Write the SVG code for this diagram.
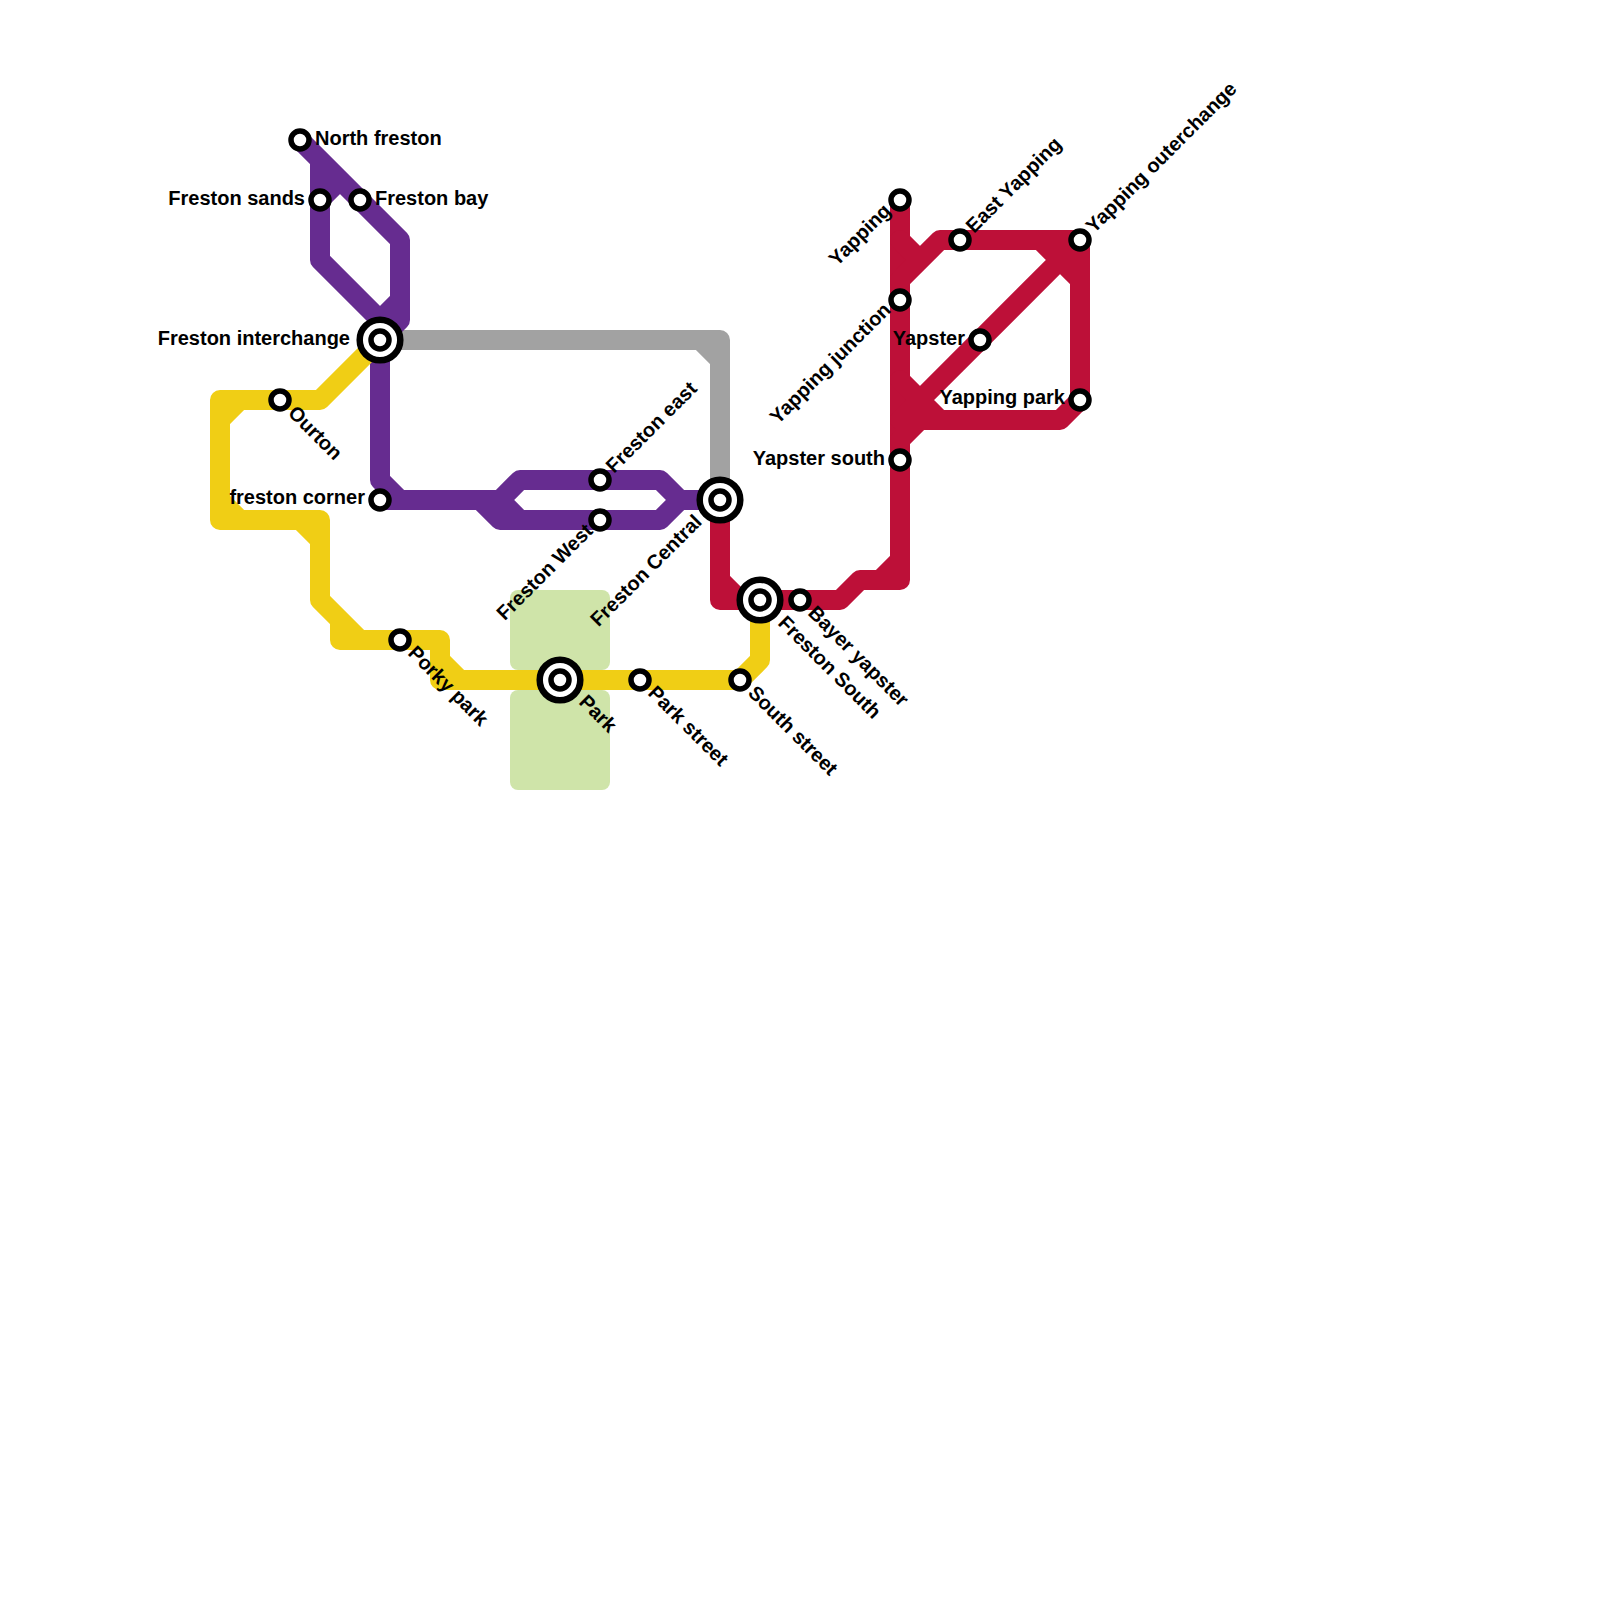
<svg xmlns="http://www.w3.org/2000/svg" width="1600" height="1600" viewBox="0 0 1600 1600">
<style>
.l{fill:none;stroke-width:20;stroke-linejoin:round;stroke-linecap:round}
.p{stroke:#662c90}.r{stroke:#bd1038}.y{stroke:#f0ce15}.g{stroke:#a2a2a2}
.park{fill:#cfe4a9}
.s{fill:#fff;stroke:#000;stroke-width:5.5}
.o{fill:#fff;stroke:#000;stroke-width:6.5}
.t{font-family:"Liberation Sans",Arial,sans-serif;font-weight:bold;font-size:20px;fill:#000}
.e{text-anchor:end}
</style>
<rect width="1600" height="1600" fill="#fff"/>
<g id="park-areas">
<rect class="park" x="510" y="590" width="100" height="80" rx="8"/>
<rect class="park" x="510" y="690" width="100" height="100" rx="8"/>
</g>
<g id="connectors">
<path class="l g" d="M380 340H720V500M700 340L720 360"/>
<path class="l p" d="M300 140L400 240V320L380 340M320 160V260L380 320M320 200L340 180M400 300L380 320"/>
<path class="l p" d="M380 340V480L400 500H500L520 480H660L680 500H720M380 500H400M480 500L500 520H660L680 500M500 500L520 520"/>
<path class="l r" d="M720 500V600H760M720 580L740 600M760 600H840L860 580H900V200M880 580L900 560"/>
<path class="l r" d="M900 240L920 260M900 280L940 240H1080V400L1060 420H920L900 440M1080 240L900 420M900 380L940 420M1040 240L1080 280"/>
<path class="l y" d="M380 340L320 400H220V520H320V600L360 640M220 420L240 400M220 500L240 520M300 520L320 540M340 620V640H440V660L460 680M440 660V680H740L760 660V600"/>
</g>
<g id="labels">
<text class="t" x="315" y="145">North freston</text>
<text class="t e" x="305" y="205">Freston sands</text>
<text class="t" x="375" y="205">Freston bay</text>
<text class="t e" x="350" y="345">Freston interchange</text>
<text class="t" transform="translate(287 414) rotate(45)">Ourton</text>
<text class="t e" x="365" y="504">freston corner</text>
<text class="t" transform="translate(407 654) rotate(45)">Porky park</text>
<text class="t" transform="translate(578 703) rotate(45)">Park</text>
<text class="t" transform="translate(647 694) rotate(45)">Park street</text>
<text class="t" transform="translate(747 694) rotate(45)">South street</text>
<text class="t" transform="translate(777 624) rotate(45)">Freston South</text>
<text class="t" transform="translate(807 614) rotate(45)">Bayer yapster</text>
<text class="t e" transform="translate(703 523) rotate(-45)">Freston Central</text>
<text class="t" transform="translate(614 474) rotate(-45)">Freston east</text>
<text class="t e" transform="translate(594 532) rotate(-45)">Freston West</text>
<text class="t e" transform="translate(892 212) rotate(-45)">Yapping</text>
<text class="t e" transform="translate(892 311) rotate(-45)">Yapping junction</text>
<text class="t e" x="885" y="465">Yapster south</text>
<text class="t" transform="translate(974 234) rotate(-45)">East Yapping</text>
<text class="t" transform="translate(1094 234) rotate(-45)">Yapping outerchange</text>
<text class="t e" x="965" y="345">Yapster</text>
<text class="t e" x="1065" y="404">Yapping park</text>
</g>
<g id="north-freston"><circle class="s" cx="300" cy="140" r="9"/></g>
<g id="freston-sands"><circle class="s" cx="320" cy="200" r="9"/></g>
<g id="freston-bay"><circle class="s" cx="360" cy="200" r="9"/></g>
<g id="ourton"><circle class="s" cx="280" cy="400" r="9"/></g>
<g id="freston-corner"><circle class="s" cx="380" cy="500" r="9"/></g>
<g id="porky-park"><circle class="s" cx="400" cy="640" r="9"/></g>
<g id="park-street"><circle class="s" cx="640" cy="680" r="9"/></g>
<g id="south-street"><circle class="s" cx="740" cy="680" r="9"/></g>
<g id="bayer-yapster"><circle class="s" cx="800" cy="600" r="9"/></g>
<g id="freston-east"><circle class="s" cx="600" cy="480" r="9"/></g>
<g id="freston-west"><circle class="s" cx="600" cy="520" r="9"/></g>
<g id="yapping"><circle class="s" cx="900" cy="200" r="9"/></g>
<g id="yapping-junction"><circle class="s" cx="900" cy="300" r="9"/></g>
<g id="yapster-south"><circle class="s" cx="900" cy="460" r="9"/></g>
<g id="east-yapping"><circle class="s" cx="960" cy="240" r="9"/></g>
<g id="yapping-outerchange"><circle class="s" cx="1080" cy="240" r="9"/></g>
<g id="yapster"><circle class="s" cx="980" cy="340" r="9"/></g>
<g id="yapping-park"><circle class="s" cx="1080" cy="400" r="9"/></g>
<g id="freston-interchange"><circle class="o" cx="380" cy="340" r="20.3"/><circle class="s" cx="380" cy="340" r="9"/></g>
<g id="freston-central"><circle class="o" cx="720" cy="500" r="20.3"/><circle class="s" cx="720" cy="500" r="9"/></g>
<g id="freston-south"><circle class="o" cx="760" cy="600" r="20.3"/><circle class="s" cx="760" cy="600" r="9"/></g>
<g id="park"><circle class="o" cx="560" cy="680" r="20.3"/><circle class="s" cx="560" cy="680" r="9"/></g>
</svg>
